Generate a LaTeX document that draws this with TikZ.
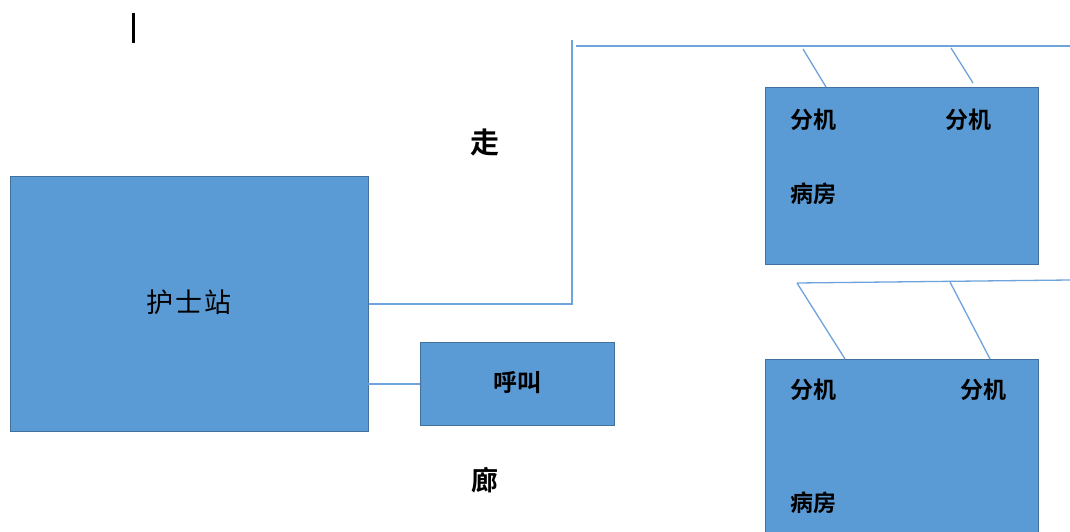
\documentclass[tikz,border=0pt]{standalone}
\usepackage{fontspec}
\setmainfont{Noto Sans CJK SC}
\newfontfamily\cjkb{Noto Sans CJK SC Bold}
\definecolor{boxfill}{HTML}{5B9BD5}
\definecolor{boxedge}{HTML}{41719C}
\definecolor{wire}{HTML}{6FA3DC}
\begin{document}
\begin{tikzpicture}[x=1pt,y=-1pt,
  room/.style={draw=boxedge,fill=boxfill,line width=1pt,anchor=north west,inner sep=0pt},
  wireline/.style={draw=wire,line width=1.3pt},
  lbl/.style={inner sep=0pt,font=\fontsize{19}{19}\selectfont},
  blbl/.style={inner sep=0pt,font=\cjkb\fontsize{23}{23}\selectfont}]
\clip (0,0) rectangle (1070,532);
\fill[white] (0,0) rectangle (1070,532);
% cursor mark
\fill[black] (132,13) rectangle (135,43);
% boxes
\node[room,minimum width=358pt,minimum height=255pt] (ns) at (10,176) {};
\node[room,minimum width=194pt,minimum height=83pt] (call) at (420,342) {};
\node[room,minimum width=273pt,minimum height=177pt] (r1) at (765,87) {};
\node[room,minimum width=273pt,minimum height=190pt] (r2) at (765,359) {};
% labels
\node[lbl,font=\fontsize{27}{27}\selectfont] (nst) at (189,302) {护\kern2pt士\kern2pt站};
\node[lbl,font=\cjkb\fontsize{24}{24}\selectfont] (callt) at (517,383) {呼叫};
\node[blbl,font=\cjkb\fontsize{29}{29}\selectfont] (zou) at (485,142) {走};
\node[blbl,font=\cjkb\fontsize{27}{27}\selectfont] (lang) at (485,480) {廊};
\node[blbl] (e11) at (813,120) {分机};
\node[blbl] (e12) at (968,120) {分机};
\node[blbl] (w1) at (813,194) {病房};
\node[blbl] (e21) at (813,390) {分机};
\node[blbl] (e22) at (983,390) {分机};
\node[blbl] (w2) at (813,503) {病房};
% corridor coordinates
\coordinate (c1) at (572,304);
\coordinate (c2) at (572,40);
\coordinate (t1) at (576,46);
\coordinate (t2) at (1070,46);
\coordinate (d1a) at (803,49);
\coordinate (d1b) at (826,87);
\coordinate (d2a) at (951,48);
\coordinate (d2b) at (973,83);
\coordinate (b1) at (797,283);
\coordinate (b2) at (1070,280);
\coordinate (d3a) at (950,282);
\coordinate (d3b) at (845,359);
\coordinate (d4b) at (990,359);
% wires
\draw[wireline] (ns.east |- c1) -- (c1) -- (c2);
\draw[wireline] (t1) -- (t2);
\draw[wireline] (d1a) -- (d1b);
\draw[wireline] (d2a) -- (d2b);
\draw[wireline] (b1) -- (b2);
\draw[wireline] (b1) -- (d3b);
\draw[wireline] (d3a) -- (d4b);
\draw[wireline] (368,384) -- (call.west);
\end{tikzpicture}
\end{document}
